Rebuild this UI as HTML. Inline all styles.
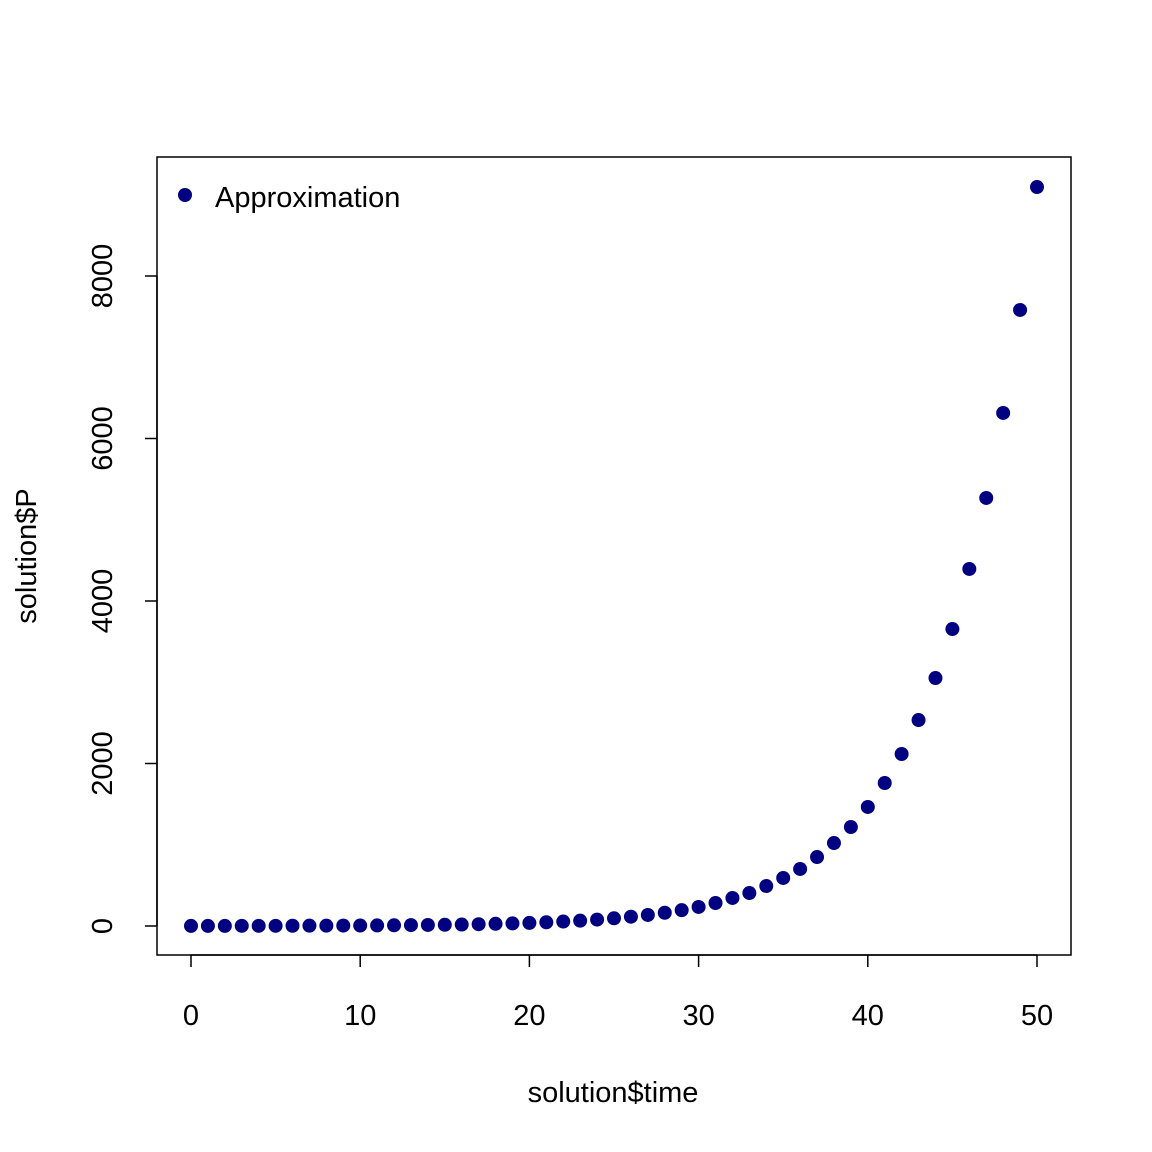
<!DOCTYPE html>
<html><head><meta charset="utf-8"><style>body{margin:0;background:#fff}svg{display:block}text{font-family:"Liberation Sans",Arial,sans-serif;fill:#000}</style></head>
<body>
<svg id="chart" width="1152" height="1152" viewBox="0 0 1152 1152">
<rect x="157" y="157" width="914" height="798" fill="none" stroke="#000" stroke-width="1.5"/>
<g id="xaxis"></g>
<g id="yaxis"></g>
<g id="points"></g>
<text x="613" y="1102" font-size="29" text-anchor="middle">solution$time</text>
<text transform="translate(36,556) rotate(-90)" font-size="29" text-anchor="middle">solution$P</text>
<g>
<circle cx="185" cy="195" r="7" fill="#000080"/>
<text x="215" y="207" font-size="29">Approximation</text>
</g>
</svg>
<script>
const times = [0,1,2,3,4,5,6,7,8,9,10,11,12,13,14,15,16,17,18,19,20,21,22,23,24,25,26,27,28,29,30,31,32,33,34,35,36,37,38,39,40,41,42,43,44,45,46,47,48,49,50];
const values = [1,1,1,2,2,2,3,4,4,5,6,7,9,11,13,15,18,22,27,32,38,46,55,66,79,95,114,136,163,195,234,283,345,406,492,591,702,849,1021,1218,1465,1760,2117,2535,3052,3655,4394,5268,6314,7582,9095];
const xTicks = [0,10,20,30,40,50];
const yTicks = [0,2000,4000,6000,8000];
const NS = "http://www.w3.org/2000/svg";
function sx(v){return 191 + v*(1037-191)/50;}
function sy(v){return 926 - v*(926-276)/8000;}
function mk(tag, attrs, parent){const e=document.createElementNS(NS,tag);for(const k in attrs)e.setAttribute(k,attrs[k]);parent.appendChild(e);return e;}
const xa=document.getElementById('xaxis'), ya=document.getElementById('yaxis'), pg=document.getElementById('points');
let l=mk('line',{x1:sx(xTicks[0]),x2:sx(xTicks[xTicks.length-1]),y1:955,y2:955,stroke:'#000','stroke-width':1.5},xa);


xTicks.forEach(t=>{
  const tk=mk('line',{x1:sx(t),x2:sx(t),y1:955,y2:967,stroke:'#000','stroke-width':1.5},xa);
  
  
  const tx=mk('text',{x:sx(t),y:1025,'font-size':29,'text-anchor':'middle'},xa);
  tx.textContent=t;
  
  
});
l=mk('line',{x1:157,x2:157,y1:sy(yTicks[0]),y2:sy(yTicks[yTicks.length-1]),stroke:'#000','stroke-width':1.5},ya);


yTicks.forEach(t=>{
  const tk=mk('line',{x1:145,x2:157,y1:sy(t),y2:sy(t),stroke:'#000','stroke-width':1.5},ya);
  
  
  const tx=mk('text',{transform:'translate(112,'+sy(t)+') rotate(-90)','font-size':29,'text-anchor':'middle'},ya);
  tx.textContent=t;
  
  
});
times.forEach((t,i)=>{
  const c=mk('circle',{cx:sx(t),cy:sy(values[i]),r:7,fill:'#000080'},pg);
  
  
});
</script>
</body></html>
